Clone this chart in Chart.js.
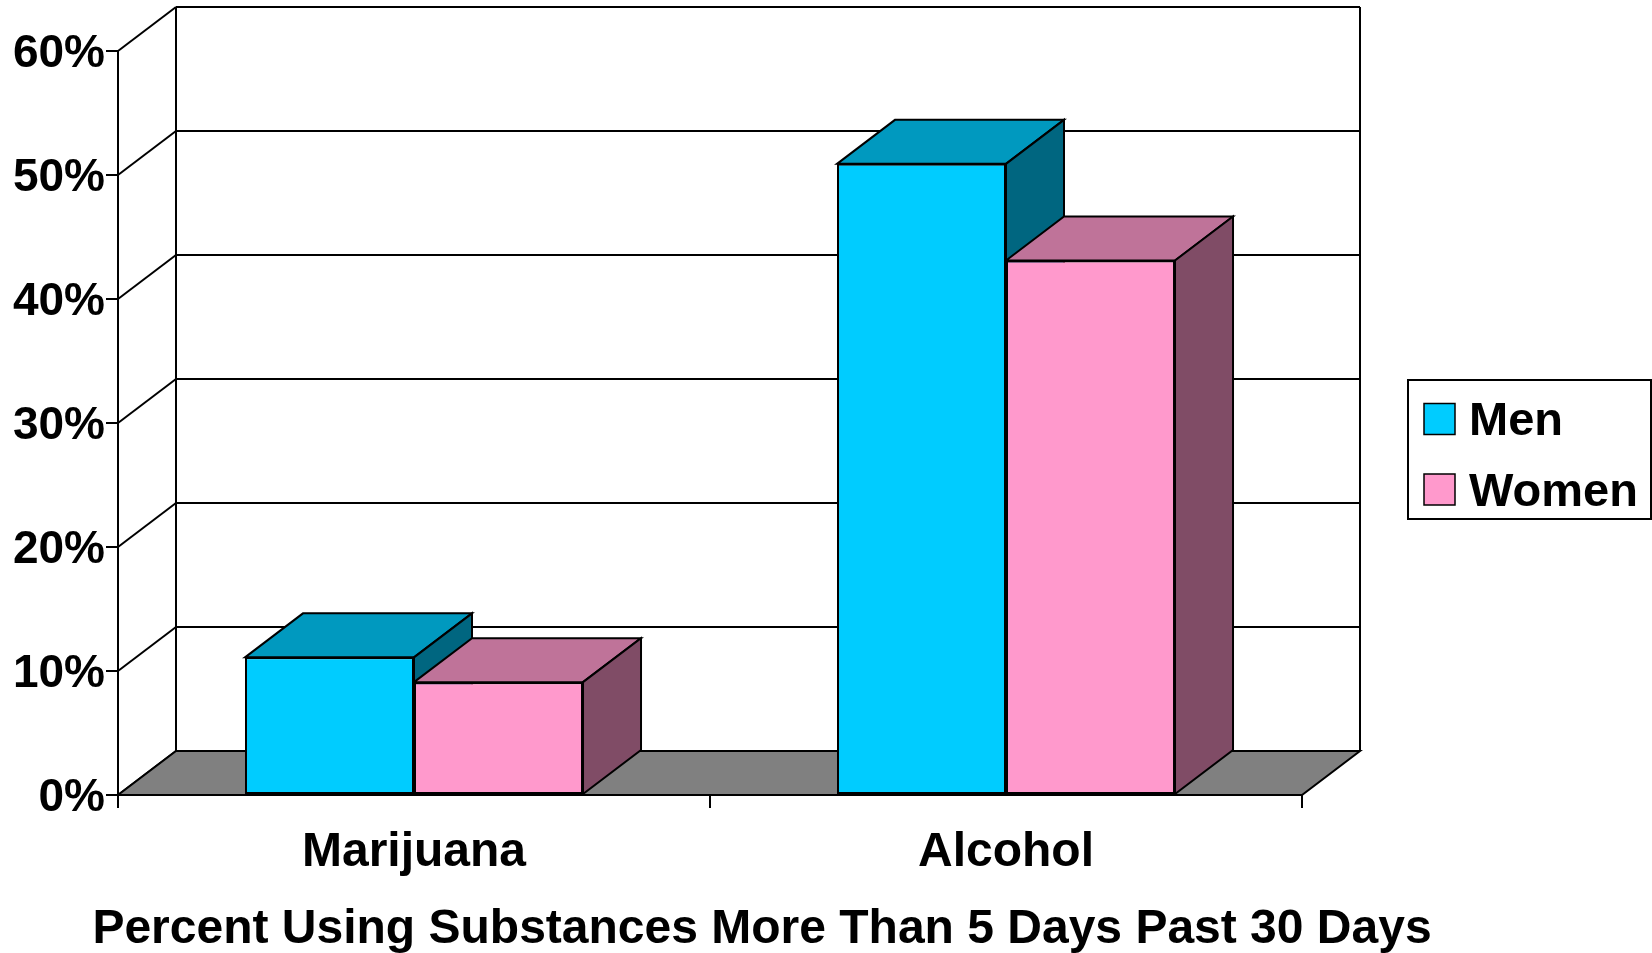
<!DOCTYPE html>
<html>
<head>
<meta charset="utf-8">
<title>Percent Using Substances</title>
<script src="https://cdn.jsdelivr.net/npm/chart.js@4"></script>
<style>
  html, body { margin: 0; padding: 0; background: #fff; }
  #wrap { width: 1652px; height: 953px; }
</style>
</head>
<body>
<div id="wrap"><canvas id="myChart" width="1652" height="953"></canvas></div>
<script>
// Values
const categories = ['Marijuana', 'Alcohol'];
const seriesNames = ['Men', 'Women'];
const menValues = [11.1, 50.9];
const womenValues = [9.1, 43.1];
const yTickValues = [0, 10, 20, 30, 40, 50, 60];
const chartTitle = 'Percent Using Substances More Than 5 Days Past 30 Days';

// front / top / side shade of each series (Excel style 3D)
const frontColors = ['#00CCFF', '#FF99CC'];
const topColors = ['#0099BF', '#BF7399'];
const sideColors = ['#006680', '#804C66'];

const FONT = '"Liberation Sans", Arial, sans-serif';
const DEPTH_X = 58;   // how far the back wall sits to the right
const DEPTH_Y = 44;   // and up

function poly(ctx, pts, fill) {
    ctx.beginPath();
    ctx.moveTo(pts[0][0], pts[0][1]);
    for (let i = 1; i < pts.length; i++) ctx.lineTo(pts[i][0], pts[i][1]);
    ctx.closePath();
    if (fill) { ctx.fillStyle = fill; ctx.fill(); }
    ctx.stroke();
}

function line(ctx, x1, y1, x2, y2) {
    ctx.beginPath();
    ctx.moveTo(x1, y1);
    ctx.lineTo(x2, y2);
    ctx.stroke();
}

// Walls, floor, bar tops and sides + legend and title
const threeD = {
    id: 'threeD',
    beforeDatasetsDraw(chart) {
        const ctx = chart.ctx;
        const { left, right } = chart.chartArea;
        const y = chart.scales.y;
        const y0 = y.getPixelForValue(yTickValues[0]);
        const yTop = y.getPixelForValue(yTickValues[yTickValues.length - 1]);
        ctx.save();
        ctx.strokeStyle = '#000';
        ctx.lineJoin = 'miter';

        // back wall: gridlines, side wall diagonals
        ctx.lineWidth = 2;
        yTickValues.forEach(v => {
            const py = y.getPixelForValue(v);
            line(ctx, left, py, left + DEPTH_X, py - DEPTH_Y);
            line(ctx, left + DEPTH_X, py - DEPTH_Y, right + DEPTH_X, py - DEPTH_Y);
        });
        line(ctx, left + DEPTH_X, yTop - DEPTH_Y, left + DEPTH_X, y0 - DEPTH_Y);
        line(ctx, right + DEPTH_X, yTop - DEPTH_Y, right + DEPTH_X, y0 - DEPTH_Y);

        // floor
        poly(ctx, [[left, y0], [right, y0], [right + DEPTH_X, y0 - DEPTH_Y], [left + DEPTH_X, y0 - DEPTH_Y]], '#808080');

        // tops and sides of the bars, series by series
        chart.data.datasets.forEach((ds, d) => {
            chart.getDatasetMeta(d).data.forEach(bar => {
                const p = bar.getProps(['x', 'y', 'base', 'width'], true);
                const l = p.x - p.width / 2, r = p.x + p.width / 2;
                poly(ctx, [[l, p.y], [l + DEPTH_X, p.y - DEPTH_Y], [r + DEPTH_X, p.y - DEPTH_Y], [r, p.y]], topColors[d]);
                poly(ctx, [[r, p.y], [r + DEPTH_X, p.y - DEPTH_Y], [r + DEPTH_X, p.base - DEPTH_Y], [r, p.base]], sideColors[d]);
            });
        });
        ctx.restore();
    },
    afterDraw(chart) {
        const ctx = chart.ctx;
        ctx.save();
        // legend box
        ctx.lineWidth = 2;
        ctx.strokeStyle = '#000';
        ctx.fillStyle = '#fff';
        ctx.fillRect(1408, 380, 243, 139);
        ctx.strokeRect(1408, 380, 243, 139);
        ctx.font = 'bold 47px ' + FONT;
        ctx.textBaseline = 'middle';
        ctx.textAlign = 'left';
        chart.data.datasets.forEach((ds, d) => {
            const rowY = 418.5 + d * 70.5;
            ctx.fillStyle = frontColors[d];
            ctx.fillRect(1424, rowY - 15, 31, 31);
            ctx.lineWidth = 1.5;
            ctx.strokeRect(1424, rowY - 15, 31, 31);
            ctx.fillStyle = '#000';
            ctx.fillText(ds.label, 1469, rowY + 4);
        });
        // title under the axis
        ctx.font = 'bold 48px ' + FONT;
        ctx.textAlign = 'center';
        ctx.fillText(chartTitle, 762, 930);
        ctx.restore();
    }
};

const ctx = document.getElementById('myChart').getContext('2d');
new Chart(ctx, {
    type: 'bar',
    data: {
        labels: categories,
        datasets: [{
            label: seriesNames[0],
            data: menValues,
            backgroundColor: frontColors[0],
            borderColor: '#000',
            borderWidth: 2,
            borderSkipped: false
        }, {
            label: seriesNames[1],
            data: womenValues,
            backgroundColor: frontColors[1],
            borderColor: '#000',
            borderWidth: 2,
            borderSkipped: false
        }]
    },
    options: {
        responsive: false,
        animation: false,
        devicePixelRatio: 1,
        layout: { padding: { top: 51, right: 350, bottom: 0, left: 0 } },
        datasets: { bar: { categoryPercentage: 0.571, barPercentage: 1.0 } },
        plugins: {
            legend: { display: false },
            title: { display: false },
            tooltip: { enabled: false }
        },
        scales: {
            x: {
                afterFit(scale) { scale.height = 158; },
                grid: { drawOnChartArea: false, drawTicks: true, tickLength: 13, color: '#000', lineWidth: 2 },
                border: { display: true, color: '#000', width: 2 },
                ticks: {
                    color: '#000',
                    padding: 16,
                    maxRotation: 0,
                    autoSkip: false,
                    font: { family: FONT, size: 48, weight: 'bold' }
                }
            },
            y: {
                min: 0,
                max: 60,
                afterFit(scale) { scale.width = 118; },
                grid: { drawOnChartArea: false, drawTicks: true, tickLength: 12, color: '#000', lineWidth: 2 },
                border: { display: true, color: '#000', width: 2 },
                ticks: {
                    stepSize: 10,
                    color: '#000',
                    padding: 1,
                    labelOffset: 3,
                    font: { family: FONT, size: 46, weight: 'bold' },
                    callback: v => v + '%'
                }
            }
        }
    },
    plugins: [threeD]
});
</script>
</body>
</html>
